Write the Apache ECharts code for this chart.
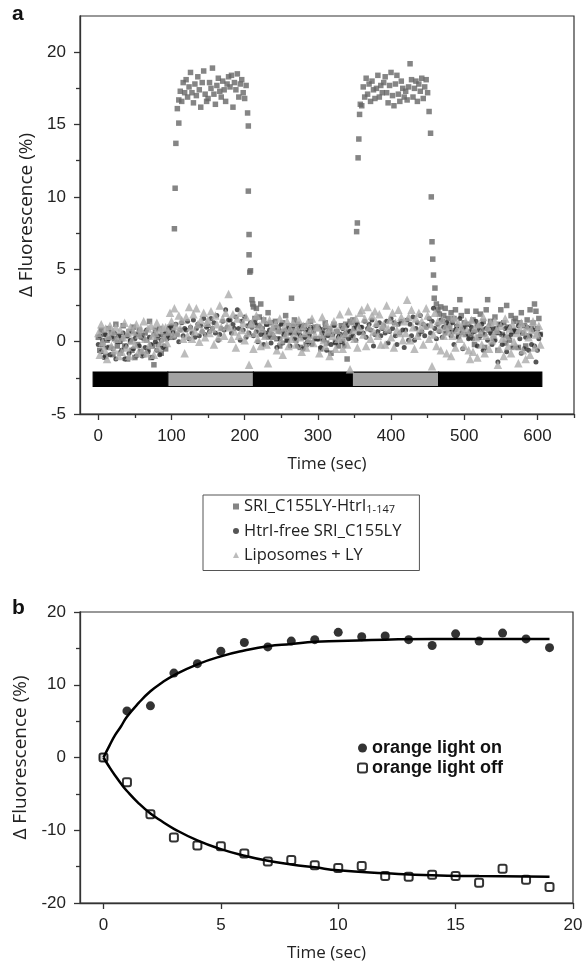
<!DOCTYPE html>
<html>
<head>
<meta charset="utf-8">
<script src="https://cdn.jsdelivr.net/npm/echarts@6/dist/echarts.min.js"></script>
<style>
  html, body { margin: 0; padding: 0; background: #fff; }
  #chart { width: 586px; height: 964px; }
</style>
</head>
<body>
<div id="chart"></div>
<script>
// ---- panel a: traces sampled every 2 s from t = 0 ----
const sampleStep = 2
const sriHtr = [
  0.3,-0.6,0.8,-0.2,0.5,-1.0,0.1,0.9,-0.4,0.6,-0.9,0.2,1.2,-0.3,0.4,
  -0.8,0.2,1.1,-0.3,0.4,-1.2,0.7,0.0,-0.6,1.0,-1.1,0.5,-0.2,0.8,-0.7,
  0.4,-0.9,0.6,0.1,-0.5,1.4,-1.1,-0.3,-1.6,0.8,0.3,-0.2,0.9,-0.8,0.5,
  0.2,-0.5,0.6,0.4,1.0,0.3,0.8,7.8,13.7,16.1,16.7,17.3,16.6,17.9,17.2,
  18.1,16.9,17.6,18.6,17.2,16.5,17.8,17.0,18.3,17.4,16.2,17.9,18.7,17.1,16.6,
  16.8,17.9,17.5,18.9,17.1,16.4,17.7,18.2,17.3,16.9,18.0,17.4,16.6,17.8,18.3,
  17.6,18.4,16.2,17.9,17.4,18.5,16.9,17.8,18.1,17.2,16.8,17.7,15.8,7.4,4.9,
  2.9,2.4,1.6,2.3,1.1,1.7,2.6,0.8,1.5,0.4,1.2,2.0,0.6,1.3,0.3,
  0.9,1.4,0.2,1.0,-0.3,0.7,1.3,0.5,1.8,0.1,1.1,0.6,3.0,0.8,1.5,
  0.1,1.2,0.6,-0.4,0.9,0.3,1.1,-0.2,0.7,0.4,1.4,-0.1,0.8,1.0,0.2,
  1.0,0.2,-0.5,0.8,0.3,1.3,-0.1,0.6,0.9,-0.8,0.5,1.2,0.0,0.7,-0.3,
  0.5,1.1,0.0,0.4,1.2,-1.2,0.7,1.4,0.3,1.5,0.9,1.2,8.2,14.0,16.4,
  16.3,17.6,16.9,18.2,17.1,17.8,16.6,18.0,17.4,16.8,17.5,18.4,16.9,17.7,17.2,
  17.9,18.3,17.2,16.5,17.7,18.6,17.0,16.3,17.8,18.4,17.1,16.6,18.0,17.5,16.9,
  17.3,16.7,17.6,19.2,18.1,16.9,17.5,18.0,16.6,17.8,17.3,18.2,16.8,17.6,18.1,
  17.2,15.9,14.4,6.9,4.6,3.7,2.6,2.2,1.9,2.4,1.4,1.8,2.3,1.0,1.6,
  1.2,2.0,0.7,1.6,2.2,1.0,0.4,2.9,1.8,0.9,1.3,0.5,2.1,1.2,0.3,
  0.6,1.5,-0.2,2.1,1.1,0.3,1.9,0.8,1.4,-0.4,2.2,2.9,0.8,1.4,0.6,
  0.2,1.7,0.9,-0.6,1.2,2.2,0.5,1.3,-0.1,2.5,1.0,0.1,1.8,0.7,1.4,
  1.6,0.7,-0.4,1.3,2.0,0.6,1.1,-0.3,1.5,0.4,2.2,0.9,1.3,2.6,2.1,
  0.9,1.6,0.5
]
// extra points caught on the fast rise / fall edges [t, value]
const sriHtrEdges = [
  [105, 10.6], [110, 15.1], [205, 14.9], [205, 10.4], [206, 6.0], [207, 4.8],
  [211, 2.6], [353, 7.6], [355, 12.7], [357, 15.7], [455, 10.0], [457, 5.7], [459, 3.0]
]
const htrFree = [
  -0.2,0.4,-0.7,0.1,-1.1,0.5,-0.4,0.2,-0.9,0.3,-0.5,0.6,-1.2,0.0,0.4,
  0.0,-0.6,0.6,-1.2,-0.3,0.4,-0.8,0.1,0.7,-0.5,0.2,-1.0,0.5,-0.3,0.3,
  -1.0,0.2,-0.4,0.8,-0.7,0.3,-0.2,-1.1,0.5,0.0,-0.6,0.4,-0.9,0.1,-0.4,
  -0.3,0.6,0.2,0.9,0.4,1.1,0.6,0.3,1.2,0.5,0.0,0.8,1.3,0.4,0.9,
  0.8,1.4,0.2,1.0,0.6,1.5,0.3,0.9,1.2,0.4,1.1,0.7,1.6,0.5,1.0,
  1.1,0.7,1.6,0.9,1.3,0.6,1.8,0.1,0.5,0.9,1.4,0.8,2.2,1.0,1.5,
  1.5,0.6,1.2,0.9,1.7,2.2,0.9,0.1,1.4,0.8,1.7,0.3,1.1,0.6,1.3,
  1.0,0.4,1.3,0.7,0.0,1.1,0.5,0.9,-0.2,0.6,1.2,0.3,0.8,-0.1,0.5,
  0.3,1.0,-0.4,0.7,0.2,1.2,-0.1,0.5,0.8,0.1,0.9,-0.3,0.6,1.1,0.2,
  0.6,-0.3,0.9,0.4,1.1,-0.5,0.3,0.8,0.0,0.5,1.0,-0.2,0.7,0.2,0.9,
  0.2,0.9,-0.4,0.6,0.1,1.0,-0.6,0.4,0.8,-0.2,0.5,1.1,-0.1,0.7,0.3,
  0.5,0.0,0.9,-0.3,0.6,1.1,0.2,0.7,1.3,0.4,0.9,0.1,1.2,0.6,1.0,
  1.0,0.6,1.4,0.3,0.9,1.2,0.8,1.5,-0.3,0.5,1.1,0.7,1.3,0.4,0.9,
  1.1,0.6,1.4,-0.1,0.7,1.6,0.9,1.3,0.4,-0.2,1.2,0.6,1.4,0.8,-0.4,
  0.8,1.5,0.1,1.2,0.4,1.7,0.1,0.9,1.3,0.5,1.8,0.7,1.2,0.4,1.0,
  1.1,1.6,0.6,1.4,2.3,0.9,0.2,1.2,0.7,1.5,0.3,1.0,0.6,1.3,0.8,
  0.9,0.4,1.3,-0.2,0.8,1.1,0.3,1.6,0.6,-0.5,1.0,0.5,1.2,0.2,0.7,
  1.0,0.2,0.7,1.4,-0.3,0.8,0.4,1.2,-0.6,0.5,0.9,0.1,1.1,0.6,-0.2,
  0.9,0.1,0.6,-1.4,0.6,1.2,-0.2,0.4,0.9,-0.7,0.3,1.0,0.5,-0.4,0.8,
  0.7,-0.4,1.1,0.2,-0.8,0.6,-0.5,0.3,1.0,-0.6,0.4,-0.2,0.8,-0.3,-1.4,
  -0.6,0.2,0.5
]
const liposomes = [
  0.6,-0.9,1.2,0.0,-0.5,0.9,-1.2,0.4,1.1,-0.3,0.7,-0.6,1.0,0.2,-1.0,
  0.8,-0.7,0.3,1.3,-0.4,0.6,-1.0,1.0,0.1,0.7,-0.2,1.2,-0.8,0.5,0.9,
  -0.6,1.4,0.2,-0.8,0.9,-0.2,1.1,0.4,-0.9,0.6,1.3,-0.4,0.8,0.0,1.0,
  0.3,1.0,-0.1,0.7,2.0,1.4,0.5,2.3,1.1,0.6,1.8,0.9,1.5,0.2,-0.8,
  1.7,0.4,2.4,1.0,0.2,1.9,0.7,2.3,1.2,0.0,1.5,0.8,2.0,0.3,1.3,
  1.5,0.6,2.1,0.9,-0.2,1.8,1.2,0.3,2.5,1.0,1.6,0.4,2.0,1.1,3.3,
  1.0,0.2,1.9,0.7,-0.4,1.6,0.4,2.0,0.8,1.3,0.1,1.7,0.6,-1.6,1.2,
  1.3,-0.5,0.6,1.8,0.2,1.1,-0.3,0.9,1.5,0.4,-0.2,-1.5,1.5,0.7,1.0,
  0.4,1.2,-0.6,0.8,1.6,0.1,-0.9,1.0,0.5,1.4,-0.3,0.9,0.2,1.3,0.6,
  -0.2,0.9,1.5,0.3,-0.7,1.1,0.6,-0.4,1.3,0.2,0.8,1.6,-0.1,0.5,1.0,
  1.0,-0.8,0.5,1.7,0.1,-0.3,1.2,0.7,-1.0,0.9,0.4,1.4,-0.5,0.8,0.2,
  1.9,0.3,-0.5,1.1,0.6,-0.2,2.1,-1.9,1.4,0.8,0.2,1.6,-0.4,1.0,2.0,
  2.2,0.5,1.6,-0.3,2.4,1.0,0.2,1.8,0.7,2.1,1.3,0.4,1.9,-0.2,1.1,
  1.2,-0.2,2.5,0.9,1.5,0.3,2.0,-0.4,1.3,0.8,2.2,0.6,1.7,0.1,1.4,
  0.6,2.9,1.7,0.1,2.2,1.0,-0.5,1.6,0.4,2.0,0.9,1.4,-0.2,1.1,2.3,
  1.8,0.2,1.2,-1.7,0.5,2.0,-0.3,1.4,0.9,-0.6,1.5,0.4,1.0,-0.8,0.7,
  1.1,-1.0,0.4,1.6,-0.4,0.8,1.3,0.2,1.0,0.6,-0.3,1.4,0.8,-0.6,-1.2,
  1.5,-0.7,0.9,0.3,-1.1,1.2,0.6,-0.2,1.7,-0.8,0.4,1.0,-0.5,1.3,0.1,
  0.5,1.4,0.8,-1.6,-0.5,1.1,0.2,-1.0,1.6,0.4,-0.3,0.9,-0.8,1.2,0.0,
  -0.3,0.6,-1.5,0.9,1.3,-0.6,0.7,-1.2,1.0,0.3,-0.9,0.8,1.4,-0.4,0.5,
  0.6,1.1,-0.2
]
// light protocol bar: [start, end, on(1)/off(0)]
const lightPeriods = [[-7, 95, 0], [95, 212, 1], [212, 347, 0], [347, 465, 1], [465, 606, 0]]
const lightBarRange = [-2.1, -3.1]
const aXTicks = [0, 100, 200, 300, 400, 500, 600]
const aXMinor = [50, 150, 250, 350, 450, 550, 650]
const aYTicks = [-5, 0, 5, 10, 15, 20]
const aYMinor = [-2.5, 2.5, 7.5, 12.5, 17.5]

// ---- panel b ----
const bTime = [0,1,2,3,4,5,6,7,8,9,10,11,12,13,14,15,16,17,18,19]
const lightOn = [0,6.4,7.1,11.6,12.9,14.6,15.8,15.2,16.0,16.2,17.2,16.6,16.7,16.2,15.4,17.0,16.0,17.1,16.3,15.1]
const lightOff = [0,-3.4,-7.8,-11.0,-12.1,-12.2,-13.2,-14.3,-14.1,-14.8,-15.2,-14.9,-16.3,-16.4,-16.1,-16.3,-17.2,-15.3,-16.8,-17.8]
const fitTime = [0,0.25,0.5,0.75,1,1.5,2,2.5,3,4,5,6,7,8,9,10,12,14,16,19]
const fitOn = [0,1.6,3.1,4.3,5.6,7.5,9.1,10.3,11.3,12.8,13.9,14.7,15.3,15.6,15.9,16.0,16.2,16.3,16.3,16.3]
const fitOff = [0,-1.3,-2.5,-3.6,-4.6,-6.3,-7.7,-8.8,-9.8,-11.4,-12.6,-13.5,-14.2,-14.7,-15.1,-15.5,-15.9,-16.2,-16.3,-16.4]
const bXTicks = [0, 5, 10, 15, 20]

const trace = arr => arr.map((v, i) => [i * sampleStep, v])
const pairs = (xs, ys) => xs.map((x, i) => [x, ys[i]])

const tickFont = { fontFamily: 'Liberation Sans', fontSize: 17, color: '#222' }
const xNameFont = { fontFamily: 'Open Sans', fontSize: 17, color: '#222' }
const yNameFont = { fontFamily: 'Open Sans', fontSize: 19, color: '#222' }
const axisLn = { show: true, onZero: false, lineStyle: { color: '#333', width: 1.3 } }
const tickLine = { color: '#333', width: 1.3 }

const chart = echarts.init(document.getElementById('chart'), null, { renderer: 'canvas' })

chart.setOption({
  animation: false,
  graphic: [
    { type: 'text', left: 12, top: 4, style: { text: 'a', font: 'bold 21px Liberation Sans', fill: '#111' } },
    { type: 'text', left: 12, top: 598, style: { text: 'b', font: 'bold 21px Liberation Sans', fill: '#111' } }
  ],
  grid: [
    { left: 80, top: 16, width: 494, height: 398, show: true, borderColor: '#333', borderWidth: 1.2 },
    { left: 80, top: 612, width: 493, height: 291, show: true, borderColor: '#333', borderWidth: 1.2 }
  ],
  xAxis: [
    {
      gridIndex: 0, type: 'value', position: 'bottom', min: -25, max: 650,
      axisLine: axisLn,
      axisTick: { customValues: aXTicks, length: 6, lineStyle: tickLine },
      axisLabel: { customValues: aXTicks, margin: 14, ...tickFont },
      splitLine: { show: false },
      name: 'Time (sec)', nameLocation: 'middle', nameGap: 42, nameTextStyle: xNameFont
    },
    {
      gridIndex: 0, type: 'value', position: 'bottom', min: -25, max: 650,
      axisLine: { show: false, onZero: false },
      axisTick: { customValues: aXMinor, length: 4, lineStyle: tickLine },
      axisLabel: { show: false }, splitLine: { show: false }
    },
    {
      gridIndex: 1, type: 'value', position: 'bottom', min: -1, max: 20,
      axisLine: axisLn,
      axisTick: { customValues: bXTicks, length: 6, lineStyle: tickLine },
      axisLabel: { customValues: bXTicks, margin: 14, ...tickFont },
      splitLine: { show: false },
      name: 'Time (sec)', nameLocation: 'middle', nameGap: 42, nameTextStyle: xNameFont
    }
  ],
  yAxis: [
    {
      gridIndex: 0, type: 'value', position: 'left', min: -5, max: 22.5,
      axisLine: axisLn,
      axisTick: { customValues: aYTicks, length: 6, lineStyle: tickLine },
      axisLabel: { customValues: aYTicks, margin: 14, ...tickFont },
      splitLine: { show: false },
      name: 'Δ Fluorescence (%)', nameLocation: 'middle', nameGap: 44, nameTextStyle: yNameFont
    },
    {
      gridIndex: 0, type: 'value', position: 'left', min: -5, max: 22.5,
      axisLine: { show: false, onZero: false },
      axisTick: { customValues: aYMinor, length: 4, lineStyle: tickLine },
      axisLabel: { show: false }, splitLine: { show: false }
    },
    {
      gridIndex: 1, type: 'value', position: 'left', min: -20, max: 20, interval: 10,
      axisLine: axisLn,
      axisTick: { length: 6, lineStyle: tickLine },
      minorTick: { show: true, splitNumber: 2, length: 4, lineStyle: tickLine },
      axisLabel: { margin: 14, ...tickFont },
      splitLine: { show: false },
      name: 'Δ Fluorescence (%)', nameLocation: 'middle', nameGap: 44, nameTextStyle: yNameFont
    }
  ],
  legend: [
    {
      data: ['SRI_C155LY-HtrI1-147', 'HtrI-free SRI_C155LY', 'Liposomes + LY'],
      orient: 'vertical', left: 203, top: 495,
      borderColor: '#555', borderWidth: 1, padding: [3, 18, 7, 30],
      itemWidth: 6, itemHeight: 6, itemGap: 7,
      textStyle: {
        fontFamily: 'Open Sans', fontSize: 16.5, color: '#222',
        rich: {
          n: { fontFamily: 'Open Sans', fontSize: 16.5, color: '#222' },
          s: { fontFamily: 'Open Sans', fontSize: 11, color: '#222', verticalAlign: 'bottom', padding: [7, 0, 0, 0] }
        }
      },
      formatter: name => name === 'SRI_C155LY-HtrI1-147' ? '{n|SRI_C155LY-HtrI}{s|1-147}' : name
    },
    {
      data: ['orange light on', 'orange light off'],
      orient: 'vertical', left: 352, top: 734,
      itemWidth: 9, itemHeight: 9, itemGap: 2,
      textStyle: { fontFamily: 'Liberation Sans', fontWeight: 'bold', fontSize: 18, color: '#111' }
    }
  ],
  series: [
    {
      type: 'custom', xAxisIndex: 0, yAxisIndex: 0, z: 1,
      data: lightPeriods,
      encode: { x: [0, 1] },
      renderItem: (params, api) => {
        const p0 = api.coord([api.value(0), lightBarRange[0]])
        const p1 = api.coord([api.value(1), lightBarRange[1]])
        const on = api.value(2) === 1
        return {
          type: 'rect',
          shape: { x: p0[0], y: p0[1], width: p1[0] - p0[0], height: p1[1] - p0[1] },
          style: { fill: on ? '#a2a2a2' : '#000', stroke: '#000', lineWidth: 1.2 },
          z2: on ? 2 : 1
        }
      }
    },
    {
      name: 'SRI_C155LY-HtrI1-147', type: 'scatter', xAxisIndex: 0, yAxisIndex: 0,
      symbol: 'rect', symbolSize: 5.5,
      itemStyle: { color: '#666' },
      data: trace(sriHtr).concat(sriHtrEdges)
    },
    {
      name: 'HtrI-free SRI_C155LY', type: 'scatter', xAxisIndex: 0, yAxisIndex: 0,
      symbol: 'circle', symbolSize: 5,
      itemStyle: { color: '#2a2a2a' },
      data: trace(htrFree)
    },
    {
      name: 'Liposomes + LY', type: 'scatter', xAxisIndex: 0, yAxisIndex: 0,
      symbol: 'triangle', symbolSize: 8.5,
      itemStyle: { color: '#ababab' },
      data: trace(liposomes)
    },
    {
      type: 'line', xAxisIndex: 2, yAxisIndex: 2, smooth: true, symbol: 'none',
      lineStyle: { color: '#000', width: 2.5 },
      data: pairs(fitTime, fitOn)
    },
    {
      type: 'line', xAxisIndex: 2, yAxisIndex: 2, smooth: true, symbol: 'none',
      lineStyle: { color: '#000', width: 2.5 },
      data: pairs(fitTime, fitOff)
    },
    {
      name: 'orange light on', type: 'scatter', xAxisIndex: 2, yAxisIndex: 2,
      symbol: 'circle', symbolSize: 9,
      itemStyle: { color: '#000' },
      data: pairs(bTime, lightOn)
    },
    {
      name: 'orange light off', type: 'scatter', xAxisIndex: 2, yAxisIndex: 2,
      symbol: 'roundRect', symbolSize: 8,
      itemStyle: { color: '#fff', borderColor: '#000', borderWidth: 2 },
      data: pairs(bTime, lightOff)
    }
  ]
})
</script>
</body>
</html>
